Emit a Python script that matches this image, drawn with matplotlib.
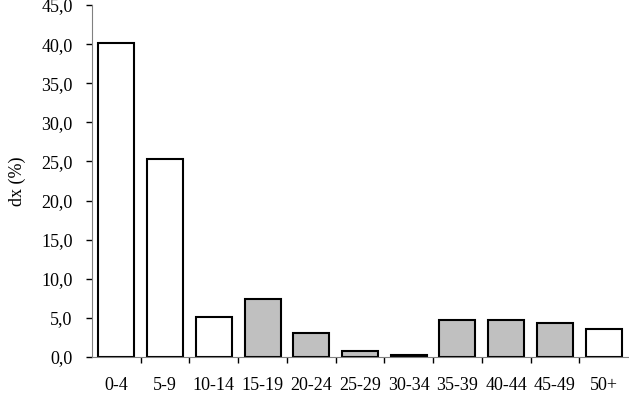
import numpy as np
import matplotlib
matplotlib.use('Agg')
import matplotlib.pyplot as plt

plt.rcParams['font.family'] = ['Liberation Serif', 'DejaVu Serif']

categories = ['0-4', '5-9', '10-14', '15-19', '20-24', '25-29', '30-34',
              '35-39', '40-44', '45-49', '50+']
values = [40.2, 25.3, 5.1, 7.4, 3.1, 0.8, 0.2, 4.7, 4.7, 4.4, 3.6]
fills = ['white', 'white', 'white', '#c0c0c0', '#c0c0c0', '#c0c0c0', '#c0c0c0',
         '#c0c0c0', '#c0c0c0', '#c0c0c0', 'white']

fig = plt.figure(figsize=(6.29, 3.97), dpi=100)
ax = fig.add_axes([92 / 629, 40 / 397, 536 / 629, 352 / 397])

x = np.arange(len(categories))
ax.bar(x, values, width=0.74, color=fills, edgecolor='black', linewidth=1.5)

ax.set_xlim(-0.5, len(categories) - 0.5)
ax.set_ylim(0, 45)
ax.set_yticks(np.arange(0, 46, 5))
ax.set_yticklabels([f'{v:.1f}'.replace('.', ',') for v in np.arange(0, 46, 5)],
                   fontsize=13)
ax.set_ylabel('dx (%)', fontsize=13, labelpad=11)

ax.set_xticks(x)
ax.set_xticklabels(categories, fontsize=13)
ax.tick_params(axis='x', which='major', length=0, pad=14.5)
ax.set_xticks(x[:-1] + 0.5, minor=True)
ax.tick_params(axis='x', which='minor', length=4, color='black', width=1)
ax.tick_params(axis='y', length=4, color='black', width=1, pad=10)

for side in ['top', 'right']:
    ax.spines[side].set_visible(False)
ax.spines['left'].set_color('#808080')
ax.spines['bottom'].set_color('#808080')

fig.savefig('out.png', dpi=100)
